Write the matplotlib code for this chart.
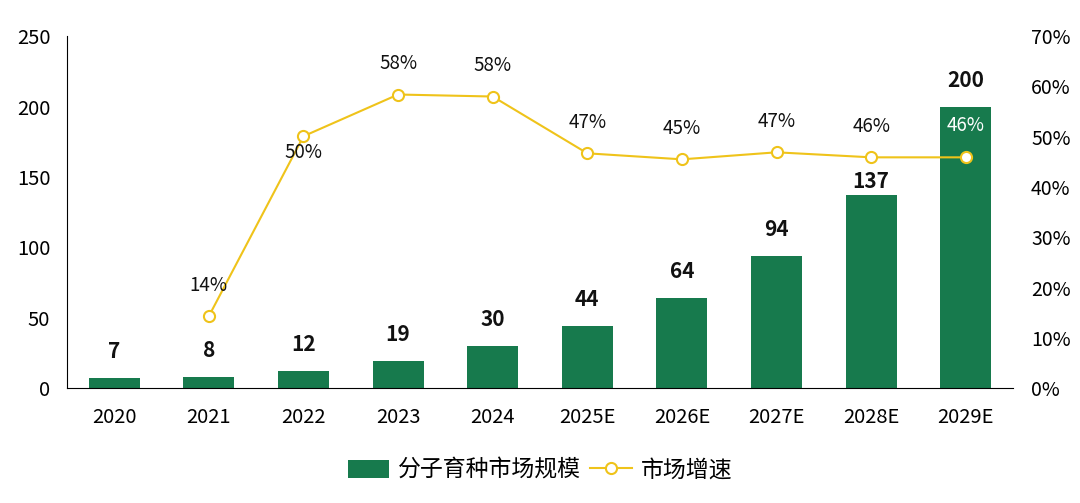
import matplotlib
matplotlib.use('Agg')
import matplotlib.pyplot as plt
import numpy as np

plt.rcParams['font.family'] = ['Noto Sans CJK SC', 'DejaVu Sans']

years = ['2020', '2021', '2022', '2023', '2024', '2025E', '2026E', '2027E', '2028E', '2029E']
market = [7, 8, 12, 19, 30, 44, 64, 94, 137, 200]
growth = [None, 14.3, 50.1, 58.4, 58.0, 46.7, 45.5, 46.9, 45.9, 45.9]
growth_labels = ['', '14%', '50%', '58%', '58%', '47%', '45%', '47%', '46%', '46%']

green = '#177A4D'
yellow = '#EFC31A'

fig = plt.figure(figsize=(10.8, 5.03), dpi=100)
ax1 = fig.add_axes([0.062, 0.2286, 0.876, 0.6994])
ax2 = ax1.twinx()

x = np.arange(len(years))
ax1.bar(x, market, width=0.54, color=green, label='分子育种市场规模', zorder=2)
ax1.set_xlim(-0.5, 9.5)
ax1.set_ylim(0, 250)
ax1.set_yticks([0, 50, 100, 150, 200, 250])
ax1.set_xticks(x)
ax1.set_xticklabels(years)
ax1.tick_params(length=0, labelsize=14.5)
ax1.tick_params(axis='x', pad=14)
ax1.tick_params(axis='y', pad=12)
for s in ['top', 'right']:
    ax1.spines[s].set_visible(False)
ax2.spines[:].set_visible(False)

for i, v in enumerate(market):
    off = 10 if v == 137 else 19
    ax1.annotate(str(v), (i, v), xytext=(0, off), textcoords='offset points',
                 ha='center', va='center', fontsize=15, fontweight='semibold', color='#111111')

gx = [i for i, g in enumerate(growth) if g is not None]
gy = [g for g in growth if g is not None]
ax2.plot(gx, gy, color=yellow, lw=1.5, marker='o', ms=8, mfc='white', mec=yellow,
         mew=1.5, label='市场增速', zorder=3)
ax2.set_ylim(0, 70)
ax2.set_yticks(range(0, 71, 10))
ax2.set_yticklabels([f'{t}%' for t in range(0, 71, 10)])
ax2.tick_params(length=0, labelsize=14, pad=13)

for i, (g, lab) in enumerate(zip(growth, growth_labels)):
    if g is None:
        continue
    if years[i] == '2022':
        off, col = -12, '#111111'
    elif years[i] == '2029E':
        off, col = 23, 'white'
    else:
        off, col = 22, '#111111'
    ax2.annotate(lab, (i, g), xytext=(0, off), textcoords='offset points',
                 ha='center', va='center', fontsize=13.5, color=col)

h1, l1 = ax1.get_legend_handles_labels()
h2, l2 = ax2.get_legend_handles_labels()
fig.legend(h1 + h2, l1 + l2, loc='center', bbox_to_anchor=(0.5, 0.065), ncol=2,
           frameon=False, fontsize=16.5, handlelength=1.8, handleheight=0.8,
           columnspacing=0.4, handletextpad=0.4)

fig.savefig('out.png', dpi=100)
